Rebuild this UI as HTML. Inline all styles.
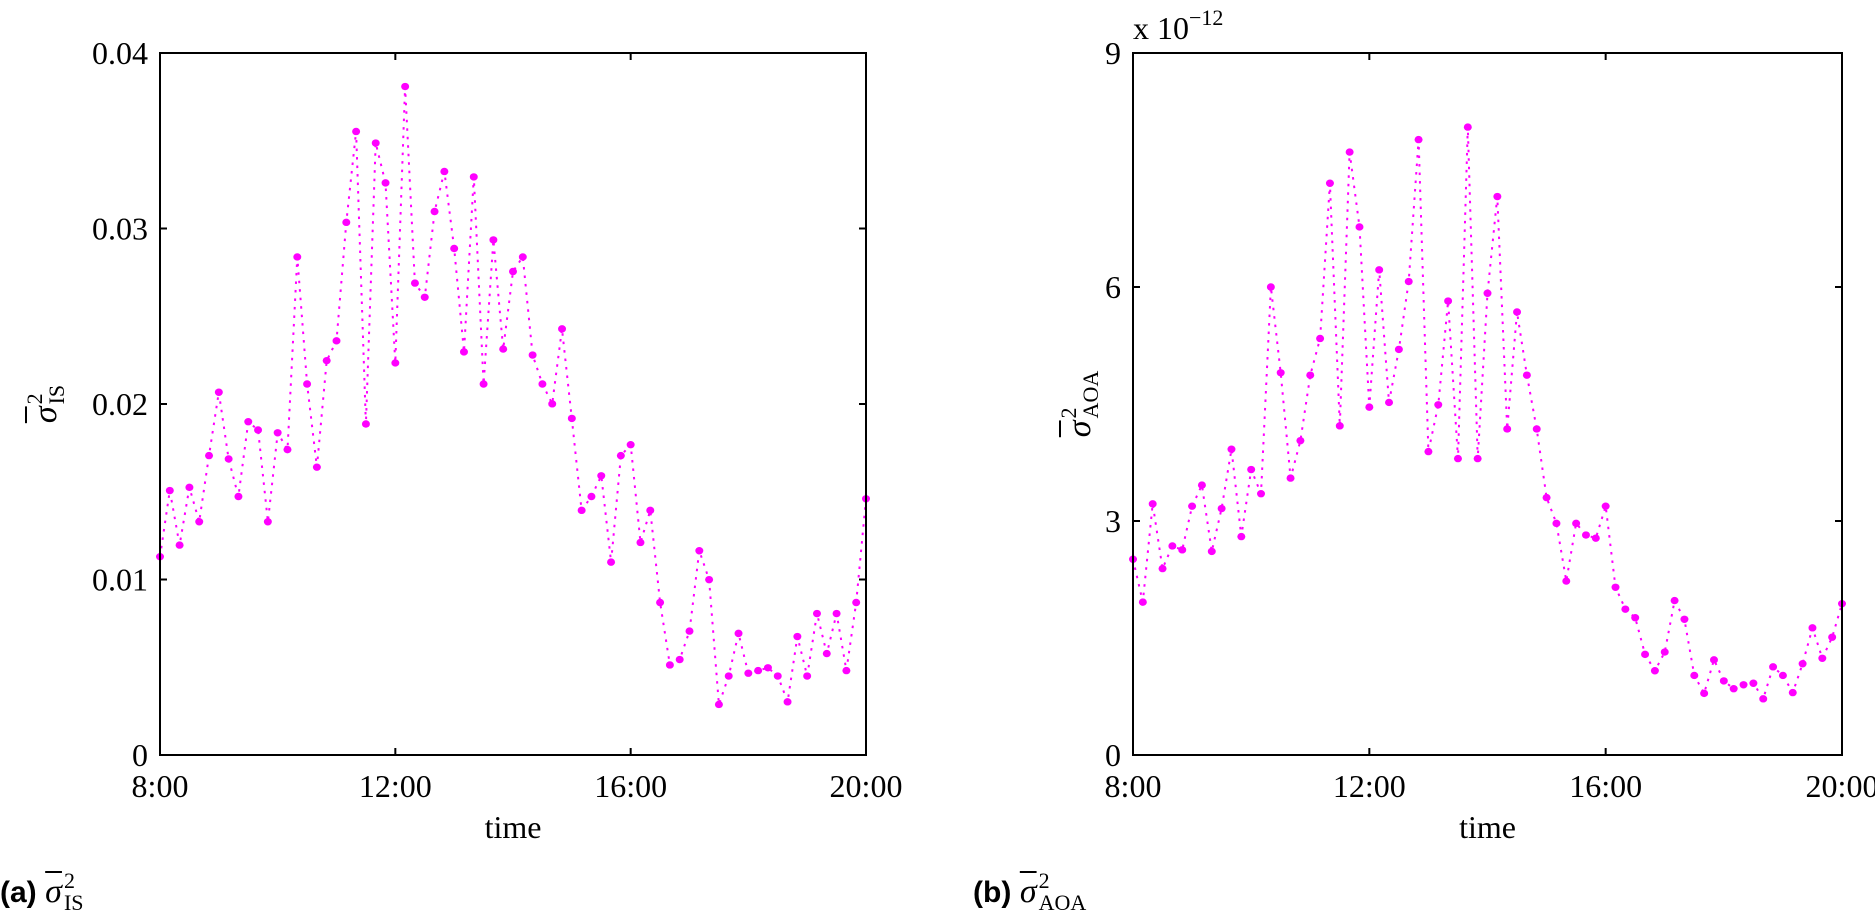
<!DOCTYPE html>
<html><head><meta charset="utf-8">
<style>
html,body{margin:0;padding:0;background:#fff;width:1875px;height:913px;overflow:hidden;position:relative}
svg{display:block}
.tk{font-family:"Liberation Serif",serif;font-size:32px;fill:#000}
.cap{font-family:"Liberation Sans",sans-serif;font-weight:bold;font-size:30px}
.lbl{position:absolute;font-family:"Liberation Serif",serif;font-size:34px;line-height:1;white-space:nowrap;color:#000}
.sig{font-style:italic;text-decoration:overline;text-decoration-thickness:2px}
.stk{display:inline-block;vertical-align:middle;font-size:22px;line-height:22px;margin-left:2px;position:relative;top:-2px}
.stk span{display:block}
.capl{position:absolute;white-space:nowrap;font-size:32px;line-height:1}
</style></head>
<body>
<svg id="chart" width="1875" height="913" viewBox="0 0 1875 913"></svg>
<script>
// ---- data ----
const hourTicks = [8, 12, 16, 20];
const hourLabels = ["8:00", "12:00", "16:00", "20:00"];
const isTicks = [0, 0.01, 0.02, 0.03, 0.04];
const isTickLabels = ["0", "0.01", "0.02", "0.03", "0.04"];
const aoaTicks = [0, 3, 6, 9];
const aoaTickLabels = ["0", "3", "6", "9"];
const isValues = [0.0113,0.01507,0.01196,0.01525,0.01329,0.01706,0.02067,0.01687,0.01473,0.01899,0.01852,0.01329,0.01836,0.0174,0.02838,0.02114,0.0164,0.02247,0.0236,0.03035,0.03553,0.01886,0.03487,0.0326,0.02234,0.03809,0.02689,0.02608,0.03097,0.03325,0.02886,0.02297,0.03294,0.02114,0.02935,0.02313,0.02755,0.02838,0.02279,0.02114,0.02001,0.02428,0.01918,0.01394,0.01473,0.01591,0.01099,0.01706,0.01768,0.01211,0.01394,0.00869,0.00513,0.00544,0.00706,0.01164,0.00999,0.00288,0.0045,0.00693,0.00466,0.00481,0.00497,0.0045,0.00303,0.00675,0.0045,0.00806,0.00578,0.00806,0.00481,0.00869,0.0146];
const aoaValues = [2.51,1.96,3.22,2.39,2.68,2.63,3.19,3.46,2.61,3.16,3.92,2.80,3.66,3.35,6.00,4.90,3.55,4.03,4.87,5.34,7.33,4.22,7.73,6.77,4.46,6.22,4.52,5.20,6.07,7.89,3.89,4.49,5.82,3.80,8.05,3.80,5.92,7.16,4.18,5.68,4.87,4.18,3.30,2.97,2.23,2.97,2.82,2.78,3.19,2.15,1.87,1.76,1.29,1.08,1.32,1.98,1.74,1.02,0.79,1.22,0.95,0.85,0.90,0.92,0.72,1.13,1.02,0.80,1.17,1.63,1.24,1.51,1.94];
const startHour = 8, stepMinutes = 10;

const NS = "http://www.w3.org/2000/svg";
const svg = document.getElementById("chart");
function mk(tag, attrs, parent) {
  const e = document.createElementNS(NS, tag);
  for (const k in attrs) e.setAttribute(k, attrs[k]);
  (parent || svg).appendChild(e);
  return e;
}

function panel(id, L, R, T, B, yMax, yTicks, yLabels, values) {
  const g = mk("g", {});
  
  
  const xs = h => L + (h - 8) / 12 * (R - L);
  const ys = v => B - v / yMax * (B - T);
  const pts = values.map((v, i) => xs(startHour + i * stepMinutes / 60).toFixed(1) + "," + ys(v).toFixed(1)).join(" ");
  const line = mk("polyline", {points: pts, fill: "none", stroke: "#ff00ff", "stroke-width": 2, "stroke-dasharray": "2.5 6"}, g);
  
  
  values.forEach((v, i) => {
    const c = mk("ellipse", {cx: xs(startHour + i * stepMinutes / 60), cy: ys(v), rx: 4, ry: 3.7, fill: "#ff00ff"}, g);
    
    
  });
  const box = mk("rect", {x: L, y: T, width: R - L, height: B - T, fill: "none", stroke: "#000", "stroke-width": 2}, g);
  
  
  hourTicks.forEach((h, i) => {
    const x = xs(h);
    mk("line", {x1: x, y1: B, x2: x, y2: B - 7, stroke: "#000", "stroke-width": 2}, g);
    mk("line", {x1: x, y1: T, x2: x, y2: T + 7, stroke: "#000", "stroke-width": 2}, g);
    const t = mk("text", {x: x, y: B + 42, "text-anchor": "middle", class: "tk"}, g);
    t.textContent = hourLabels[i];
    
    
  });
  yTicks.forEach((v, i) => {
    const y = ys(v);
    mk("line", {x1: L, y1: y, x2: L + 7, y2: y, stroke: "#000", "stroke-width": 2}, g);
    mk("line", {x1: R, y1: y, x2: R - 7, y2: y, stroke: "#000", "stroke-width": 2}, g);
    const t = mk("text", {x: L - 12, y: y + 11, "text-anchor": "end", class: "tk"}, g);
    t.textContent = yLabels[i];
    
    
  });
  const xt = mk("text", {x: (L + R) / 2, y: B + 83, "text-anchor": "middle", class: "tk"}, g);
  xt.textContent = "time";
  
  
}

panel("is", 160, 866, 53, 755, 0.04, isTicks, isTickLabels, isValues);
panel("aoa", 1133, 1842, 53, 755, 9, aoaTicks, aoaTickLabels, aoaValues);
</script>
<div class="lbl" style="left:48px;top:404px;transform:translate(-50%,-50%) rotate(-90deg)"><span class="sig">σ</span><span class="stk"><span>2</span><span>IS</span></span></div>
<div class="lbl" style="left:1082px;top:404px;transform:translate(-50%,-50%) rotate(-90deg)"><span class="sig">σ</span><span class="stk"><span>2</span><span>AOA</span></span></div>
<div class="lbl" style="left:1133px;top:12px;font-size:32px">x 10<span style="font-size:22px;position:relative;top:-14px">−12</span></div>
<div class="lbl" style="left:0;top:872px"><span class="cap">(a)</span> <span class="sig">σ</span><span class="stk"><span>2</span><span>IS</span></span></div>
<div class="lbl" style="left:973px;top:872px"><span class="cap">(b)</span> <span class="sig">σ</span><span class="stk"><span>2</span><span>AOA</span></span></div>
</body></html>
